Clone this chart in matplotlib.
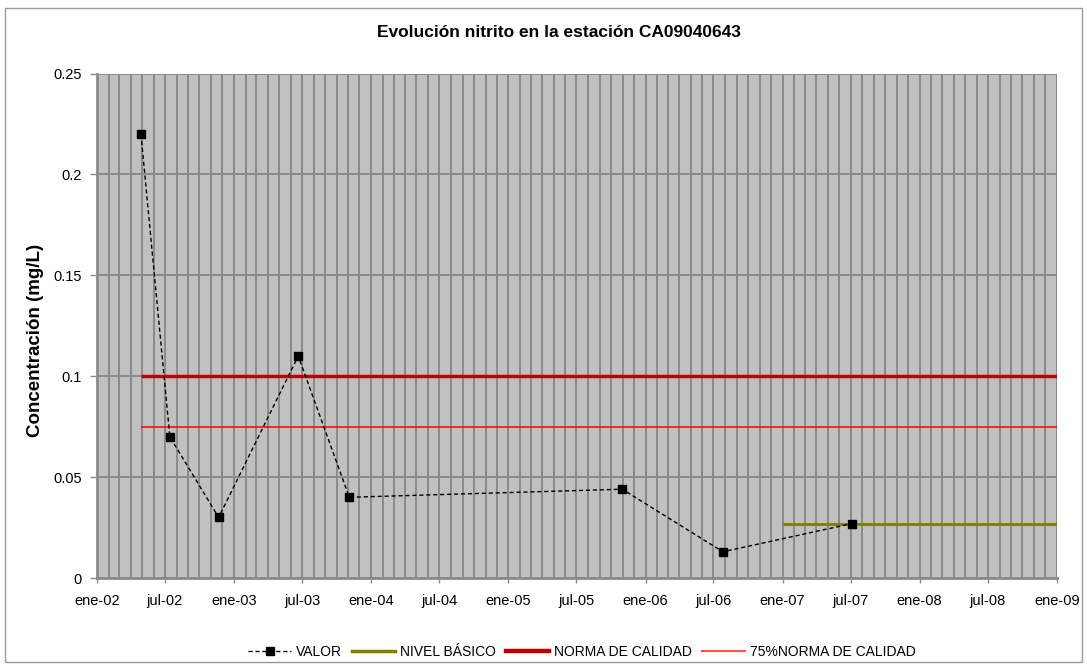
import matplotlib
matplotlib.use("Agg")
import matplotlib.pyplot as plt
import matplotlib.dates as mdates
from matplotlib.patches import Rectangle
from matplotlib.lines import Line2D
import pandas as pd

plt.rcParams['font.family'] = ['Liberation Sans', 'DejaVu Sans']

# ---- data ----
title = "Evolución nitrito en la estación CA09040643"
ylabel = "Concentración (mg/L)"

valor_dates = ['2002-04-28', '2002-07-14', '2002-11-21', '2003-06-21',
               '2003-11-04', '2005-10-31', '2006-07-26', '2007-07-06']
valor_values = [0.22, 0.07, 0.03, 0.11, 0.04, 0.044, 0.013, 0.027]

nivel_basico_dates = ['2007-01-01', '2009-01-01']
nivel_basico_values = [0.027, 0.027]

norma_dates = ['2002-04-28', '2009-01-01']
norma_values = [0.1, 0.1]

norma75_dates = ['2002-04-28', '2009-01-01']
norma75_values = [0.075, 0.075]

tick_dates = ['2002-01-01', '2002-07-01', '2003-01-01', '2003-07-01',
              '2004-01-01', '2004-07-01', '2005-01-01', '2005-07-01',
              '2006-01-01', '2006-07-01', '2007-01-01', '2007-07-01',
              '2008-01-01', '2008-07-01', '2009-01-01']
tick_labels = ['ene-02', 'jul-02', 'ene-03', 'jul-03', 'ene-04', 'jul-04',
               'ene-05', 'jul-05', 'ene-06', 'jul-06', 'ene-07', 'jul-07',
               'ene-08', 'jul-08', 'ene-09']
y_ticks = [0, 0.05, 0.1, 0.15, 0.2, 0.25]
y_tick_labels = ['0', '0.05', '0.1', '0.15', '0.2', '0.25']
legend_labels = ['VALOR', 'NIVEL BÁSICO', 'NORMA DE CALIDAD', '75%NORMA DE CALIDAD']

# ---- figure ----
W, H = 1087, 668
fig = plt.figure(figsize=(W / 100, H / 100), dpi=100)
fig.patch.set_facecolor('white')

# outer chart border
fig.patches.append(Rectangle((5 / W, 1 - 662 / H), (1082 - 5) / W, (662 - 8) / H,
                             transform=fig.transFigure, fill=False,
                             edgecolor='#9a9a9a', linewidth=1.0))

left, right, top, bottom = 97, 1057, 73.5, 578
ax = fig.add_axes([left / W, 1 - bottom / H, (right - left) / W, (bottom - top) / H])
ax.set_facecolor('#C0C0C0')

d = lambda lst: pd.to_datetime(lst)

grid_c = '#8a8a8a'
ax.set_xlim(d(['2002-01-01'])[0], d(['2009-01-01'])[0])
ax.set_ylim(0, 0.25)

ax.xaxis.set_minor_locator(mdates.MonthLocator())
ax.set_xticks(d(tick_dates))
ax.set_xticklabels(tick_labels, fontsize=10.5)
ax.set_yticks(y_ticks)
ax.set_yticklabels(y_tick_labels, fontsize=10.5)

ax.grid(True, which='both', axis='x', color=grid_c, linewidth=1.4, zorder=0)
ax.grid(True, which='major', axis='y', color=grid_c, linewidth=1.4, zorder=0)
ax.set_axisbelow(True)

ax.tick_params(axis='x', which='major', length=3.5, width=1, color=grid_c, pad=8)
ax.tick_params(axis='x', which='minor', length=0)
ax.tick_params(axis='y', which='major', length=5, width=1, color=grid_c, pad=6)

for s in ['top', 'right']:
    ax.spines[s].set_visible(False)
for s in ['left', 'bottom']:
    ax.spines[s].set_color(grid_c)
    ax.spines[s].set_linewidth(2.0)

# series
ax.plot(d(norma_dates), norma_values, color='#C00000', linewidth=2.5, zorder=3,
        solid_capstyle='butt')
ax.plot(d(norma75_dates), norma75_values, color='#FF0000', linewidth=1.1, zorder=3,
        solid_capstyle='butt')
ax.plot(d(nivel_basico_dates), nivel_basico_values, color='#808000', linewidth=2.1,
        zorder=3, solid_capstyle='butt')
ax.plot(d(valor_dates), valor_values, color='black', linestyle=(0, (3, 2)),
        linewidth=1.0, marker='s', markersize=6.2, markerfacecolor='black',
        markeredgecolor='black', zorder=4, clip_on=False)

fig.text(559 / W, 1 - 32.5 / H, title, ha='center', va='center',
         fontsize=12.5, fontweight='bold')
fig.text(36 / W, 1 - 340 / H, ylabel, rotation=90, ha='center',
         va='center', fontsize=13.5, fontweight='bold')

handles = [
    Line2D([], [], color='black', linestyle=(0, (3, 2)), linewidth=1.0, marker='s',
           markersize=6.2, markerfacecolor='black'),
    Line2D([], [], color='#808000', linewidth=2.5),
    Line2D([], [], color='#C00000', linewidth=3.2),
    Line2D([], [], color='#FF5050', linewidth=1.5),
]
fig.legend(handles, legend_labels, loc='center', bbox_to_anchor=(582 / W, 1 - 652 / H),
           ncol=4, frameon=False, fontsize=10, handlelength=3.1, handletextpad=0.36,
           columnspacing=0.72)

fig.savefig('out.png', dpi=100, facecolor='white')
